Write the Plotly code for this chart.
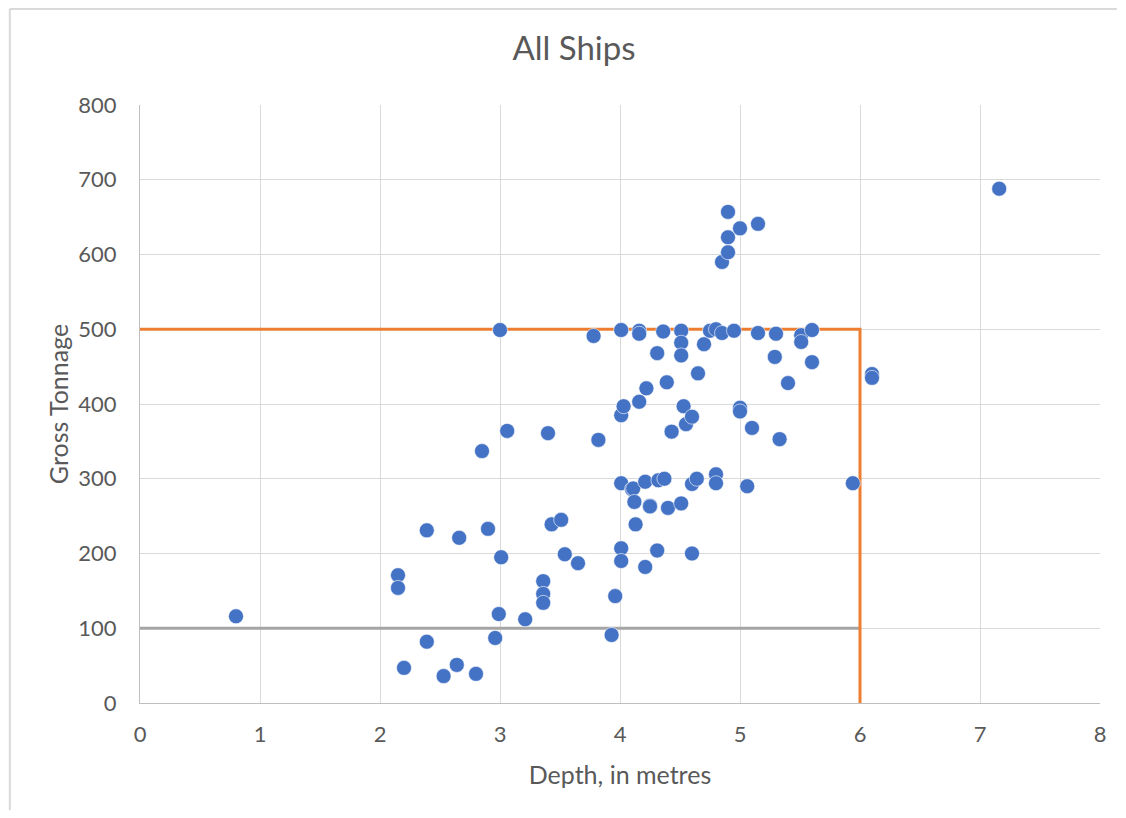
import plotly.graph_objects as go

# ship depth (m) vs gross tonnage
depth = [0.80, 2.15, 2.15, 2.20, 2.39, 2.39, 2.53, 2.64, 2.66, 2.80,
         2.85, 2.90, 2.96, 3.00, 3.01, 2.99, 3.06, 3.21, 3.36, 3.36,
         3.36, 3.40, 3.43, 3.51, 3.54, 3.65, 3.78, 3.82, 3.93, 3.96,
         4.01, 4.01, 4.01, 4.03, 4.01, 4.01, 4.10, 4.11, 4.12, 4.13,
         4.16, 4.16, 4.16, 4.21, 4.21, 4.22, 4.25, 4.25, 4.31, 4.31,
         4.32, 4.36, 4.37, 4.39, 4.40, 4.43, 4.51, 4.51, 4.51, 4.51,
         4.53, 4.55, 4.60, 4.60, 4.60, 4.64, 4.65, 4.70, 4.75, 4.80,
         4.80, 4.80, 4.85, 4.85, 4.90, 4.90, 4.90, 4.95, 5.00, 5.00,
         5.00, 5.06, 5.10, 5.15, 5.15, 5.29, 5.30, 5.33, 5.40, 5.51,
         5.51, 5.60, 5.60, 5.94, 6.10, 6.10, 7.16]
tonnage = [116, 171, 154, 47, 231, 82, 36, 51, 221, 39,
           337, 233, 87, 499, 195, 119, 364, 112, 163, 146,
           134, 361, 239, 245, 199, 187, 491, 352, 91, 143,
           499, 385, 294, 397, 207, 190, 286, 287, 269, 239,
           498, 494, 403, 296, 182, 421, 264, 263, 468, 204,
           298, 497, 300, 429, 261, 363, 498, 482, 465, 267,
           397, 373, 383, 293, 200, 300, 441, 480, 498, 500,
           306, 294, 495, 590, 657, 623, 603, 498, 635, 395,
           390, 290, 368, 641, 495, 463, 494, 353, 428, 492,
           483, 499, 456, 294, 440, 435, 688]

# reference lines
limit_x = [0, 6, 6]
limit_y = [500, 500, 0]
low_x = [0, 6]
low_y = [100, 100]

font = "Lato"
grey_text = "#595959"

# the page has an 8px body margin, so the figure is a bit smaller
W, H = 1110, 802
L, R, T, B = 132, 12, 97, 107

fig = go.Figure()
fig.add_trace(go.Scatter(x=low_x, y=low_y, mode="lines",
                         line=dict(color="#A5A5A5", width=3), hoverinfo="skip"))
fig.add_trace(go.Scatter(x=limit_x, y=limit_y, mode="lines",
                         line=dict(color="#ED7D31", width=3), hoverinfo="skip"))
fig.add_trace(go.Scatter(x=depth, y=tonnage, mode="markers",
                         marker=dict(color="#4472C4", size=15,
                                     line=dict(color="white", width=0.6))))

fig.update_layout(
    width=W, height=H,
    margin=dict(l=L, r=R, t=T, b=B),
    paper_bgcolor="white", plot_bgcolor="white",
    showlegend=False,
    font=dict(family=font, color=grey_text, size=20),
    title=dict(text="All Ships", x=566 / W, xanchor="center",
               y=1 - 40 / H, yanchor="middle",
               font=dict(family=font, size=33, color=grey_text)),
    xaxis=dict(range=[0, 8], dtick=1, showgrid=True, gridcolor="#D9D9D9",
               zeroline=False, showline=True, linecolor="#BFBFBF",
               ticks="", ticklabelstandoff=12, tickfont=dict(size=22),
               title=dict(text="Depth, in metres", standoff=20,
                          font=dict(size=25))),
    yaxis=dict(range=[0, 800], dtick=100, showgrid=True, gridcolor="#D9D9D9",
               zeroline=False, showline=True, linecolor="#BFBFBF",
               ticks="", ticklabelstandoff=18, tickfont=dict(size=22),
               title=dict(text="Gross Tonnage", standoff=2,
                          font=dict(size=25))),
)

# outer chart border: only the left and top edges show in the original
pw, ph = W - L - R, H - T - B
left = (1 - L) / pw
top = (ph + T - 1) / ph
fig.add_shape(type="line", xref="paper", yref="paper",
              x0=left, x1=left, y0=(ph + T - H - 5) / ph, y1=top,
              line=dict(color="#D9D9D9", width=2), layer="below")
fig.add_shape(type="line", xref="paper", yref="paper",
              x0=left, x1=(W + 5 - L) / pw, y0=top, y1=top,
              line=dict(color="#D9D9D9", width=2), layer="below")

fig.write_html("out.html")
